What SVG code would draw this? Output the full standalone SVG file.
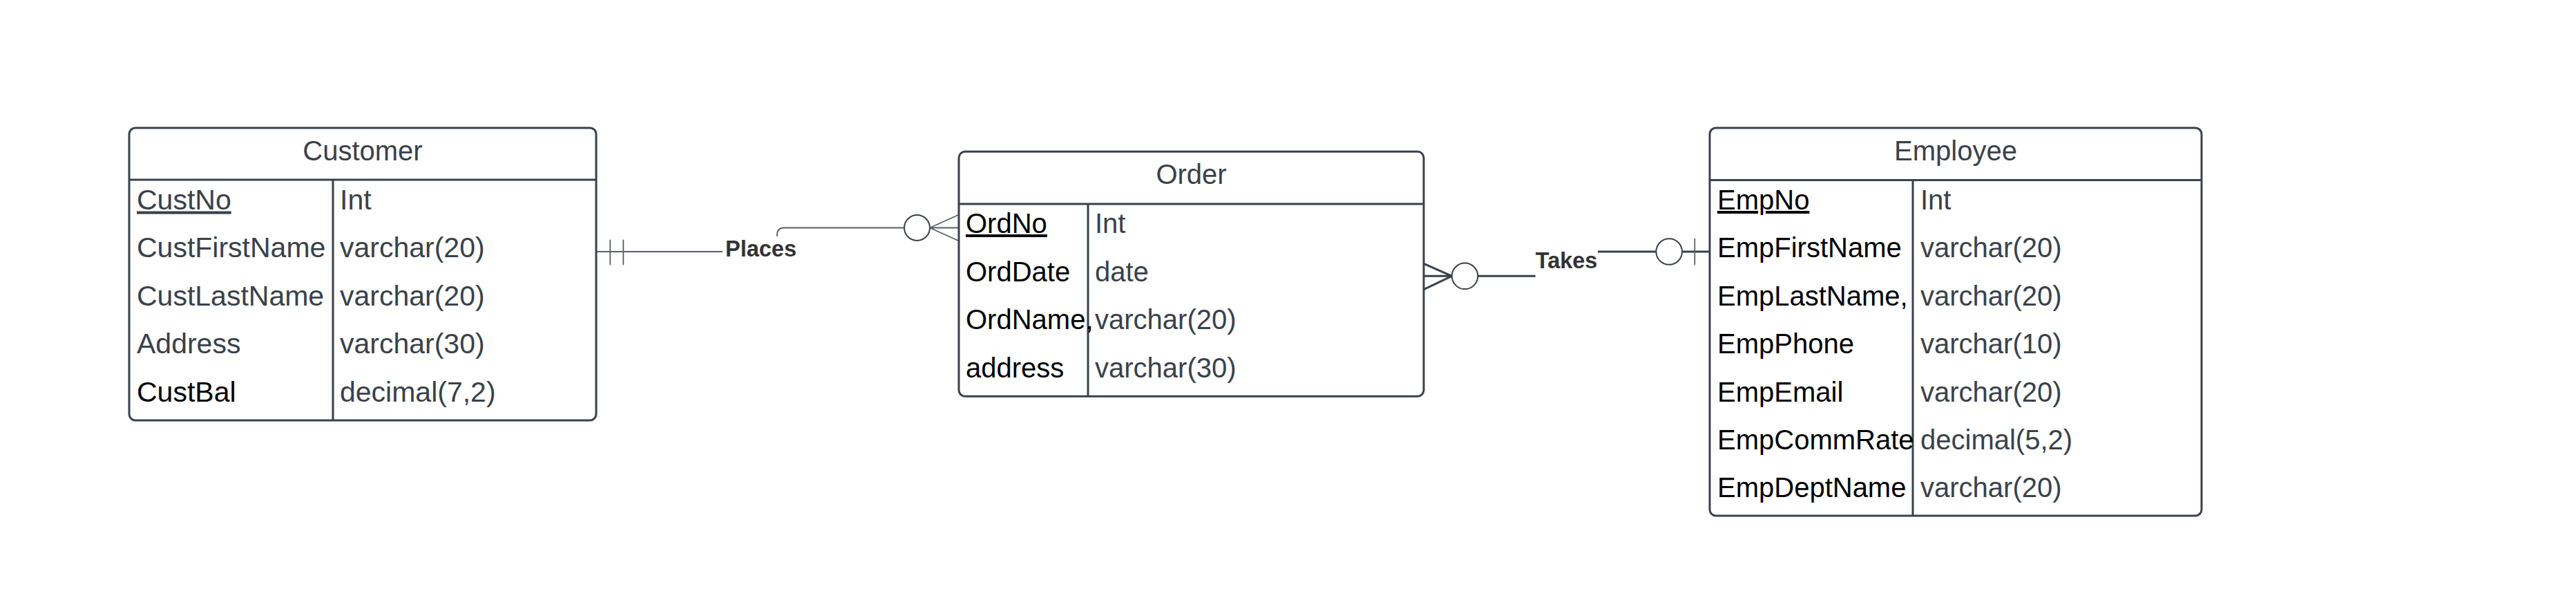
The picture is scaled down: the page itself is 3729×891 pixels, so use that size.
<svg xmlns="http://www.w3.org/2000/svg" width="3729" height="891" viewBox="0 0 3729 891">
<style>
.box{fill:#fff;stroke:#3a414a;stroke-width:3}
.sep{stroke:#3a414a;stroke-width:3;fill:none}
.t{font-family:"Liberation Sans",Arial,sans-serif;font-size:40px}
.c41{font-size:41px}
.title{fill:#3a414a;text-anchor:middle}
.g{fill:#3a414a}
.k{fill:#000}
.u{text-decoration:underline}
.lbl{font-family:"Liberation Sans",Arial,sans-serif;font-size:32.5px;font-weight:bold;fill:#333}
.thin{stroke:#5a5f66;stroke-width:1.8;fill:none}
.thick{stroke:#3a414a;stroke-width:3;fill:none}
.circ{stroke:#3a414a;stroke-width:2;fill:#fff}
</style>
<rect width="3729" height="891" fill="#fff"/>
<g id="connectors">
  <!-- Places: Customer -> Order -->
  <path class="thin" d="M863,364 H1125 V339.5 Q1125,329.5 1135,329.5 H1309"/>
  <rect x="1046" y="342" width="110" height="40" fill="#fff"/>
  <line class="thin" x1="883.3" y1="346.7" x2="883.3" y2="383.3"/>
  <line class="thin" x1="902.3" y1="346.7" x2="902.3" y2="383.3"/>
  <circle class="circ" cx="1327.5" cy="329.5" r="18.5"/>
  <path class="thin" d="M1346,329.5 L1387,311 M1346,329.5 L1387,329.5 M1346,329.5 L1387,348"/>
  <text class="lbl" x="1050" y="371">Places</text>
  <!-- Takes: Order -> Employee -->
  <path class="thick" d="M2061.7,381.7 L2101.7,399.3 L2061.7,418.3 M2061.7,399.3 H2101.7"/>
  <circle class="circ" cx="2120.5" cy="399.3" r="18.8"/>
  <line class="thick" x1="2139.3" y1="399.3" x2="2222.7" y2="399.3"/>
  <text class="lbl" x="2222.7" y="388.3">Takes</text>
  <line class="thick" x1="2313" y1="364" x2="2397.3" y2="364"/>
  <circle class="circ" cx="2416.2" cy="364" r="18.8"/>
  <line class="thick" x1="2435" y1="364" x2="2475" y2="364"/>
  <line class="thin" x1="2453.3" y1="345" x2="2453.3" y2="383.3"/>
</g>
<g id="customer">
  <rect class="box" x="187" y="185" width="676" height="423" rx="9"/>
  <line class="sep" x1="187" y1="260" x2="863" y2="260"/>
  <line class="sep" x1="482" y1="260" x2="482" y2="608"/>
  <text class="t title" x="525" y="231.5">Customer</text>
  <g class="t c41">
    <text class="g u" x="198" y="302.5">CustNo</text>
    <text class="g" x="198" y="372">CustFirstName</text>
    <text class="g" x="198" y="441.7">CustLastName</text>
    <text class="g" x="198" y="511.3">Address</text>
    <text class="k" x="198" y="580.9">CustBal</text>
    <text class="g" x="492" y="302.5">Int</text>
    <text class="g" x="492" y="372">varchar(20)</text>
    <text class="g" x="492" y="441.7">varchar(20)</text>
    <text class="g" x="492" y="511.3">varchar(30)</text>
    <text class="g" x="492" y="580.9">decimal(7,2)</text>
  </g>
</g>
<g id="order">
  <rect class="box" x="1388" y="219.3" width="673" height="354" rx="9"/>
  <line class="sep" x1="1388" y1="295" x2="2061" y2="295"/>
  <line class="sep" x1="1575" y1="295" x2="1575" y2="573.3"/>
  <text class="t title" x="1724.5" y="265.5">Order</text>
  <g class="t">
    <text class="k u" x="1398" y="337">OrdNo</text>
    <text class="k" x="1398" y="406.5">OrdDate</text>
    <text class="k" x="1398" y="476">OrdName,</text>
    <text class="k" x="1398" y="545.5">address</text>
    <text class="g" x="1585" y="337">Int</text>
    <text class="g" x="1585" y="406.5">date</text>
    <text class="g" x="1585" y="476">varchar(20)</text>
    <text class="g" x="1585" y="545.5">varchar(30)</text>
  </g>
</g>
<g id="employee">
  <rect class="box" x="2475" y="185" width="712" height="561" rx="9"/>
  <line class="sep" x1="2475" y1="260.5" x2="3187" y2="260.5"/>
  <line class="sep" x1="2769" y1="260.5" x2="2769" y2="746"/>
  <text class="t title" x="2831" y="231.7">Employee</text>
  <g class="t">
    <text class="k u" x="2486" y="303">EmpNo</text>
    <text class="k" x="2486" y="372.4">EmpFirstName</text>
    <text class="k" x="2486" y="441.8">EmpLastName,</text>
    <text class="k" x="2486" y="511.2">EmpPhone</text>
    <text class="k" x="2486" y="580.6">EmpEmail</text>
    <text class="k" x="2486" y="650">EmpCommRate</text>
    <text class="k" x="2486" y="719.4">EmpDeptName</text>
    <text class="g" x="2780" y="303">Int</text>
    <text class="g" x="2780" y="372.4">varchar(20)</text>
    <text class="g" x="2780" y="441.8">varchar(20)</text>
    <text class="g" x="2780" y="511.2">varchar(10)</text>
    <text class="g" x="2780" y="580.6">varchar(20)</text>
    <text class="g" x="2780" y="650">decimal(5,2)</text>
    <text class="g" x="2780" y="719.4">varchar(20)</text>
  </g>
</g>
</svg>
